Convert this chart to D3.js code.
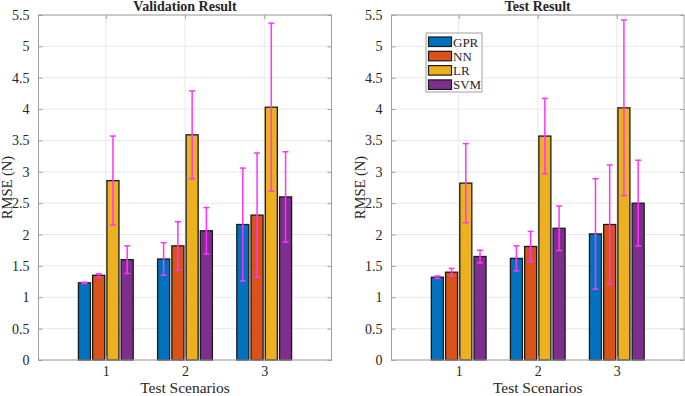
<!DOCTYPE html>
<html>
<head>
	<meta charset="utf-8">
	<script src="https://cdn.jsdelivr.net/npm/d3@7/dist/d3.min.js"></script>
	<style>
		body { margin:0; background:#fff; }
		text { font-family:"Liberation Serif", "Times New Roman", serif; fill:#262626; }
	</style>
</head>
<body>
<script>
	var scenarios = [1, 2, 3];
	var models = ["GPR", "NN", "LR", "SVM"];
	var colors = ["#0072BD", "#D95319", "#EDB120", "#7E2F8E"];
	var yTicks = [0, 0.5, 1, 1.5, 2, 2.5, 3, 3.5, 4, 4.5, 5, 5.5];

	// rows = scenarios, cols = models
	var valMean = [[1.23, 1.35, 2.86, 1.60],
				   [1.61, 1.82, 3.59, 2.06],
				   [2.16, 2.31, 4.03, 2.60]];
	var valErr  = [[0.01, 0.025, 0.71, 0.22],
				   [0.26, 0.385, 0.70, 0.37],
				   [0.90, 0.99, 1.34, 0.72]];
	var testMean = [[1.32, 1.40, 2.82, 1.65],
					[1.62, 1.81, 3.57, 2.10],
					[2.01, 2.16, 4.02, 2.50]];
	var testErr  = [[0.02, 0.06, 0.63, 0.10],
					[0.20, 0.24, 0.60, 0.355],
					[0.88, 0.95, 1.40, 0.685]];

	var svg = d3.select("body").append("svg").attr("width", 685).attr("height", 396);

	function panel(left, right, title, means, errs, legend) {
		var top = 15, bottom = 360;
		var x = d3.scaleLinear().domain([0.15, 3.85]).range([left, right]);
		var y = d3.scaleLinear().domain([0, 5.5]).range([bottom, top]);
		var g = svg.append("g");

		// grid
		g.selectAll(".gy").data(yTicks).enter().append("line")
			.attr("x1", left).attr("x2", right)
			.attr("y1", function(d){return y(d)}).attr("y2", function(d){return y(d)})
			.attr("stroke", "#e8e8e8").attr("stroke-width", 1);
		g.selectAll(".gx").data(scenarios).enter().append("line")
			.attr("x1", function(d){return x(d)}).attr("x2", function(d){return x(d)})
			.attr("y1", top).attr("y2", bottom)
			.attr("stroke", "#e8e8e8").attr("stroke-width", 1);

		// bars
		var bw = 0.152, pitch = 0.18;
		var rows = [];
		means.forEach(function(row, i){
			row.forEach(function(v, j){
				rows.push({s: scenarios[i], m: j, v: v, e: errs[i][j]});
			});
		});
		function cx(d){ return d.s + (d.m - 1.5) * pitch; }
		g.selectAll(".bar").data(rows).enter().append("rect")
			.attr("x", function(d){return x(cx(d) - bw/2)})
			.attr("width", x(bw) - x(0))
			.attr("y", function(d){return y(d.v)})
			.attr("height", function(d){return y(0) - y(d.v)})
			.attr("fill", function(d){return colors[d.m]})
			.attr("stroke", "#1a1a1a").attr("stroke-width", 1.3);

		// error bars
		var eb = g.selectAll(".err").data(rows).enter().append("g").attr("stroke", "#ff33ff").attr("stroke-width", 1.5);
		eb.append("line")
			.attr("x1", function(d){return x(cx(d))}).attr("x2", function(d){return x(cx(d))})
			.attr("y1", function(d){return y(d.v + d.e)}).attr("y2", function(d){return y(d.v - d.e)});
		[1, -1].forEach(function(sg){
			eb.append("line")
				.attr("x1", function(d){return x(cx(d)) - 3}).attr("x2", function(d){return x(cx(d)) + 3})
				.attr("y1", function(d){return y(d.v + sg*d.e)}).attr("y2", function(d){return y(d.v + sg*d.e)});
		});

		// box and ticks
		g.append("rect").attr("x", left).attr("y", top).attr("width", right-left).attr("height", bottom-top)
			.attr("fill", "none").attr("stroke", "#a0a0a0").attr("stroke-width", 1);
		var ya = g.append("g").attr("transform", "translate(" + left + ",0)")
			.call(d3.axisLeft(y).tickValues(yTicks).tickSize(-4).tickPadding(9).tickFormat(d3.format("")));
		var yr = g.append("g").attr("transform", "translate(" + right + ",0)")
			.call(d3.axisRight(y).tickValues(yTicks).tickSize(-4).tickFormat(""));
		var xa = g.append("g").attr("transform", "translate(0," + bottom + ")")
			.call(d3.axisBottom(x).tickValues(scenarios).tickSize(-4).tickPadding(6).tickFormat(d3.format("d")));
		var xt = g.append("g").attr("transform", "translate(0," + top + ")")
			.call(d3.axisTop(x).tickValues(scenarios).tickSize(-4).tickFormat(""));
		[ya, yr, xa, xt].forEach(function(a){
			a.select(".domain").remove();
			a.selectAll("line").attr("stroke", "#a0a0a0");
			a.selectAll("text").style("font-family", "Liberation Serif").style("font-size", "14px").attr("fill", "#262626");
		});

		// labels
		svg.append("text").attr("x", (left+right)/2).attr("y", 11)
			.attr("text-anchor", "middle").style("font-size", "14px").style("font-weight", "bold").attr("fill", "#000")
			.text(title);
		svg.append("text").attr("x", (left+right)/2).attr("y", 393)
			.attr("text-anchor", "middle").style("font-size", "15.5px").text("Test Scenarios");
		svg.append("text").attr("transform", "translate(" + (left - 27) + "," + ((top+bottom)/2) + ") rotate(-90)")
			.attr("text-anchor", "middle").style("font-size", "14.5px").text("RMSE (N)");

		if (legend) {
			var lg = svg.append("g").attr("transform", "translate(426,33)");
			lg.append("rect").attr("width", 56).attr("height", 59).attr("fill", "#fff").attr("stroke", "#a0a0a0");
			var it = lg.selectAll(".li").data(models).enter().append("g")
				.attr("transform", function(d, i){return "translate(0," + (4 + i*14.3) + ")"});
			it.append("rect").attr("x", 2.5).attr("width", 23).attr("height", 9.5)
				.attr("fill", function(d, i){return colors[i]}).attr("stroke", "#1a1a1a").attr("stroke-width", 1.2);
			it.append("text").attr("x", 27).attr("y", 9.5).style("font-size", "13px").text(function(d){return d});
		}
	}

	panel(38.5, 331.5, "Validation Result", valMean, valErr, false);
	panel(391.5, 684, "Test Result", testMean, testErr, true);
</script>
</body>
</html>
